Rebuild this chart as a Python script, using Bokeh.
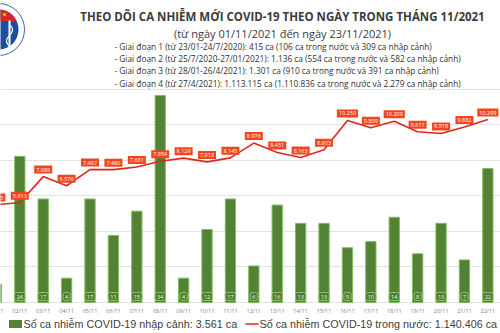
import numpy as np
from bokeh.plotting import figure
from bokeh.models import Range1d, Label, FixedTicker
from bokeh.core.properties import value
from bokeh.embed import file_html
from bokeh.resources import INLINE

# ---------------- data ----------------
dates = ["01/11", "02/11", "03/11", "04/11", "05/11", "06/11", "07/11", "08/11",
         "09/11", "10/11", "11/11", "12/11", "13/11", "14/11", "15/11", "16/11",
         "17/11", "18/11", "19/11", "20/11", "21/11", "22/11"]
imported = [3, 24, 17, 4, 17, 11, 15, 34, 4, 12, 17, 6, 16, 13, 13, 9, 10, 14, 8, 13, 7, 22]
domestic = [5515, 5613, 7089, 6576, 7487, 7480, 7631, 7954, 8129, 7918, 8145, 8976,
            8451, 8163, 8603, 10250, 9839, 10209, 9617, 9518, 9882, 10299]
grid_ticks = [0, 2000, 4000, 6000, 8000, 10000, 12000]

title = "THEO DÕI CA NHIỄM MỚI COVID-19 THEO NGÀY TRONG THÁNG 11/2021"
subtitle = "(từ ngày 01/11/2021 đến ngày 23/11/2021)"
info_lines = [
    "- Giai đoạn 1 (từ 23/01-24/7/2020): 415 ca (106 ca trong nước và 309 ca nhập cảnh)",
    "- Giai đoạn 2 (từ 25/7/2020-27/01/2021): 1.136 ca (554 ca trong nước và 582 ca nhập cảnh)",
    "- Giai đoạn 3 (từ 28/01-26/4/2021): 1.301 ca (910 ca trong nước và 391 ca nhập cảnh)",
    "- Giai đoạn 4 (từ 27/4/2021): 1.113.115 ca (1.110.836 ca trong nước và 2.279 ca nhập cảnh)",
]
legend_bar = "Số ca nhiễm COVID-19 nhập cảnh: 3.561 ca"
legend_line = "Số ca nhiễm COVID-19 trong nước: 1.140.406 ca"

days = list(range(1, len(dates) + 1))
dom_labels = [f"{v:,}".replace(",", ".") for v in domestic]
imp_labels = [str(v) for v in imported]

W, H = 500, 333
p = figure(width=W, height=H, x_range=Range1d(1.175, 22.54), y_range=Range1d(-1745, 17005),
           output_backend="svg", toolbar_location=None, min_border=0,
           x_axis_location=None, y_axis_location=None)
p.outline_line_color = None
p.background_fill_color = "white"
p.border_fill_color = "white"
p.extra_x_ranges = {"px": Range1d(0, W)}
p.extra_y_ranges = {"bars": Range1d(-5.09, 49.6), "px": Range1d(H, 0)}
p.xgrid.visible = False
p.ygrid.ticker = FixedTicker(ticks=grid_ticks)
p.ygrid.grid_line_color = "#e2e2e2"
p.ygrid.grid_line_width = 1

FONT = value("Open Sans")

# bars
p.vbar(x=days, top=imported, bottom=0, width=0.44, y_range_name="bars",
       fill_color="#548235", line_color="#80bd5e", line_width=1)
# bar value boxes
p.text(x=days, y=[0] * len(days), text=imp_labels, y_range_name="bars", y_offset=-6,
       text_align="center", text_baseline="middle", text_color="#f2f2f2",
       text_font_size="5.5px", text_font=FONT,
       background_fill_color="#4f7d31", border_line_color="#8cc46c", border_line_width=1,
       padding=2, border_radius=2)
# x labels
p.text(x=days, y=[0] * len(days), text=dates, y_range_name="bars", y_offset=8,
       text_align="center", text_baseline="middle", text_color="#7f7f7f",
       text_font_size="5.5px", text_font=FONT)

# line
p.line(x=days, y=domestic, line_color="#e0261c", line_width=1.6)
p.text(x=days, y=domestic, text=dom_labels, y_offset=-7,
       text_align="center", text_baseline="middle", text_color="white",
       text_font_size="5.5px", text_font=FONT,
       background_fill_color="#f1461d", padding=2)

# logo (decoration, pixel units)
cx, cy = -2, 29
p.circle(x=[cx], y=[cy], radius=26, x_range_name="px", y_range_name="px",
         fill_color="#ffffff", line_color="#3a62ad", line_width=1)
p.circle(x=[cx], y=[cy], radius=20, x_range_name="px", y_range_name="px",
         fill_color="#1f4e9e", line_color=None)
t = np.linspace(0, 2 * np.pi, 200)
xs = cx + 20 * np.cos(t)
ys = cy + 20 * np.sin(t)
m = ys < 21
p.patch(x=xs[m], y=ys[m], x_range_name="px", y_range_name="px",
        fill_color="#d7262a", line_color=None)
p.scatter(x=[4], y=[14], marker="star", size=5, x_range_name="px", y_range_name="px",
          fill_color="#ffd21f", line_color=None)
p.line(x=[9, 9], y=[20, 48], x_range_name="px", y_range_name="px",
       line_color="white", line_width=2)
sy = np.linspace(24, 46, 40)
p.line(x=9 + 3 * np.sin((sy - 24) / 3.5), y=sy, x_range_name="px", y_range_name="px",
       line_color="white", line_width=1.2)


def lab(txt, x, ytop, size, color="#404040", style="normal", align="left", font="Open Sans"):
    p.add_layout(Label(x=x, y=H - ytop, x_units="screen", y_units="screen", text=txt,
                       text_font_size=f"{size}px", text_color=color, text_font_style=style,
                       text_align=align, text_baseline="middle", text_font=font))


lab(title, 282, 16, 11.5, color="#3b3b3b", style="bold", align="center")
lab(subtitle, 282, 33, 11, color="#3b3b3b", style="normal", align="center")
for i, ln in enumerate(info_lines):
    lab(ln, 114, 45.5 + i * 12.4, 8.3, color="#303030")

# legend
p.rect(x=[15], y=[323.5], width=13, height=8, x_range_name="px", y_range_name="px",
       fill_color="#548235", line_color=None)
lab(legend_bar, 23, 323.5, 10.8, color="#404040", font="Liberation Sans")
p.line(x=[245, 258], y=[323.5, 323.5], x_range_name="px", y_range_name="px",
       line_color="#e0261c", line_width=1.6)
lab(legend_line, 259, 323.5, 10.8, color="#404040", font="Liberation Sans")

open("out.html", "w").write(file_html(p, INLINE))
